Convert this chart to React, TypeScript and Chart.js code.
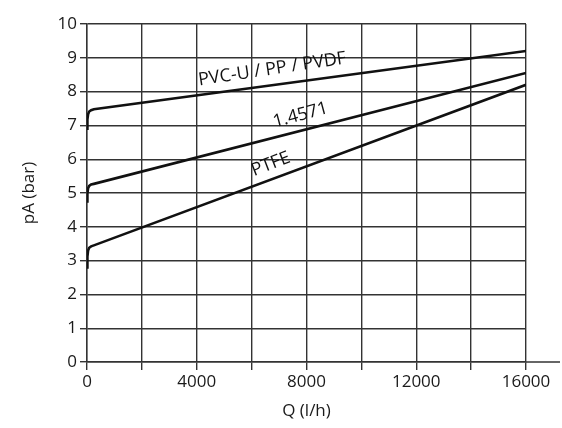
import React, { useEffect, useRef } from "react";
import { Chart, registerables } from "chart.js";

Chart.register(...registerables);

// Flow rate Q (l/h) sample points shared by all curves
const flowQ = [0, 15, 40, 80, 150, 250, 16000];
// Pressure pA (bar) for each material
const pvcValues = [6.9, 7.18, 7.33, 7.41, 7.45, 7.48, 9.2];
const steelValues = [4.75, 5.0, 5.14, 5.21, 5.25, 5.27, 8.55];
const ptfeValues = [2.8, 3.12, 3.3, 3.38, 3.42, 3.45, 8.2];

const seriesNames = ["PVC-U / PP / PVDF", "1.4571", "PTFE"];
// label anchors (data coords) and rotations in degrees
const labelQ = [6750, 7780, 6700];
const labelP = [8.66, 7.3, 5.85];
const labelAngle = [-8.5, -15, -21];

const xTicks = [0, 4000, 8000, 12000, 16000];

const FONT = "'Open Sans', 'DejaVu Sans', sans-serif";

const toPoints = (vals: number[]) => flowQ.map((q, i) => ({ x: q, y: vals[i] }));

const labelPlugin = {
  id: "curveLabels",
  afterDatasetsDraw(chart: any) {
    const { ctx, scales } = chart;
    ctx.save();
    ctx.fillStyle = "#111";
    ctx.font = `18px ${FONT}`;
    ctx.textAlign = "center";
    ctx.textBaseline = "middle";
    seriesNames.forEach((name, i) => {
      const px = scales.x.getPixelForValue(labelQ[i]);
      const py = scales.y.getPixelForValue(labelP[i]);
      ctx.save();
      ctx.translate(px, py);
      ctx.rotate((labelAngle[i] * Math.PI) / 180);
      ctx.fillText(name, 0, 0);
      ctx.restore();
    });
    // zero line extends to the right edge
    const y0 = scales.y.getPixelForValue(0);
    ctx.strokeStyle = "#333";
    ctx.lineWidth = 1.5;
    ctx.beginPath();
    ctx.moveTo(chart.chartArea.right, y0);
    ctx.lineTo(chart.width - 2, y0);
    ctx.stroke();
    ctx.restore();
  },
};

export default function App() {
  const ref = useRef<HTMLCanvasElement>(null);
  useEffect(() => {
    if (!ref.current) return;
    const ds = (vals: number[]) => ({
      data: toPoints(vals),
      borderColor: "#111",
      borderWidth: 2.6,
      pointRadius: 0,
      tension: 0,
      fill: false,
    });
    const chart = new Chart(ref.current, {
      type: "line",
      data: {
        datasets: [ds(pvcValues), ds(steelValues), ds(ptfeValues)],
      },
      options: {
        animation: false,
        responsive: false,
        maintainAspectRatio: false,
        layout: { padding: { top: 24, right: 36, left: 0, bottom: 0 } },
        plugins: { legend: { display: false }, tooltip: { enabled: false } },
        scales: {
          x: {
            type: "linear",
            min: 0,
            max: 16000,
            afterFit: (s: any) => {
              s.height = 66;
            },
            afterBuildTicks: (s: any) => {
              s.ticks = [];
              for (let v = 0; v <= 16000; v += 2000) s.ticks.push({ value: v });
            },
            ticks: {
              autoSkip: false,
              maxRotation: 0,
              color: "#1a1a1a",
              font: { family: FONT, size: 17 },
              padding: 2,
              callback: (v: any) => (xTicks.includes(Number(v)) ? String(v) : ""),
            },
            grid: { color: "#333", lineWidth: 1.4, tickLength: 8, drawTicks: true },
            border: { display: true, color: "#333", width: 1.4 },
            title: {
              display: true,
              text: "Q (l/h)",
              color: "#1a1a1a",
              font: { family: FONT, size: 17 },
              padding: { top: 4, bottom: 7 },
            },
          },
          y: {
            min: 0,
            max: 10,
            afterFit: (s: any) => {
              s.width = 87;
            },
            ticks: {
              stepSize: 1,
              color: "#1a1a1a",
              font: { family: FONT, size: 17 },
              padding: 3,
            },
            grid: { color: "#333", lineWidth: 1.4, tickLength: 7, drawTicks: true },
            border: { display: true, color: "#333", width: 1.4 },
            title: {
              display: true,
              text: "pA (bar)",
              color: "#1a1a1a",
              font: { family: FONT, size: 17 },
              padding: { top: 19, bottom: 4 },
            },
          },
        },
      },
      plugins: [labelPlugin],
    });
    return () => chart.destroy();
  }, []);
  return (
    <div style={{ position: "absolute", left: 0, top: 0, width: 562, height: 428, background: "#fff" }}>
      <canvas ref={ref} width={562} height={428} />
    </div>
  );
}
